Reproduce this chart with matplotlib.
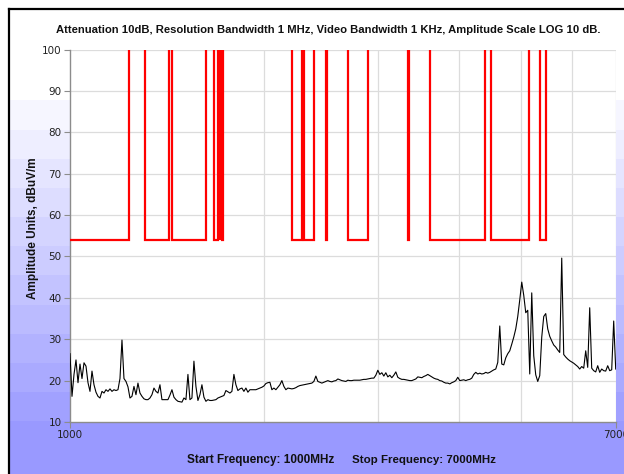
import numpy as np
import matplotlib
matplotlib.use("Agg")
import matplotlib.pyplot as plt
from matplotlib.lines import Line2D

# ---------------- data ----------------
title_text = "Attenuation 10dB, Resolution Bandwidth 1 MHz, Video Bandwidth 1 KHz, Amplitude Scale LOG 10 dB."
ylabel_text = "Amplitude Units, dBuV/m"
xlabel_start = "Start Frequency: 1000MHz"
xlabel_stop = "Stop Frequency: 7000MHz"

start_mhz = 1000
stop_mhz = 7000
y_ticks = [10, 20, 30, 40, 50, 60, 70, 80, 90, 100]
x_tick_values = [1000, 7000]
x_tick_labels = ["1000", "7000"]

# measured trace (dBuV/m), log-spaced sweep points from 1000 to 7000 MHz
trace_dbuv = [
    26.5, 16.2, 21.5, 25.0, 19.5, 24.0, 20.5, 24.3, 23.5, 19.5,
    17.4, 22.3, 19.0, 17.2, 16.2, 15.8, 17.4, 17.0, 17.8, 17.4,
    18.0, 17.4, 17.8, 17.6, 17.8, 20.5, 29.8, 20.5, 19.8, 18.5,
    15.8, 16.2, 18.6, 16.6, 19.4, 17.0, 16.2, 15.6, 15.4, 15.4,
    15.8, 16.6, 18.2, 17.4, 17.0, 19.0, 15.4, 15.4, 15.4, 15.4,
    16.5, 17.8, 16.0, 15.4, 15.0, 14.9, 14.8, 15.8, 15.4, 21.5,
    15.4, 15.8, 24.7, 18.6, 15.2, 16.6, 19.0, 16.0, 15.0, 15.4,
    15.2, 15.2, 15.3, 15.4, 15.8, 16.0, 16.2, 16.4, 17.6, 17.3,
    17.0, 17.4, 21.5, 19.0, 17.6, 18.0, 18.2, 17.4, 18.2, 17.2,
    17.8, 17.8, 17.8, 17.8, 18.0, 18.2, 18.4, 18.7, 19.3, 19.5,
    19.6, 17.8, 18.2, 17.8, 18.4, 19.0, 20.0, 18.6, 17.8, 18.2,
    18.1, 18.0, 18.1, 18.3, 18.6, 18.8, 18.9, 19.0, 19.1, 19.2,
    19.3, 19.4, 19.8, 21.1, 19.8, 19.6, 19.4, 19.6, 19.8, 20.0,
    19.8, 19.7, 19.9, 20.0, 20.4, 20.2, 20.0, 19.9, 19.8, 20.1,
    20.0, 20.0, 20.1, 20.1, 20.1, 20.1, 20.2, 20.3, 20.3, 20.4,
    20.5, 20.6, 20.6, 21.3, 22.5, 21.5, 21.9, 21.1, 21.9, 20.9,
    21.3, 20.7, 21.3, 22.1, 20.8, 20.5, 20.3, 20.3, 20.2, 20.1,
    20.0, 20.0, 20.2, 20.4, 20.9, 20.8, 20.7, 21.0, 21.2, 21.5,
    21.2, 20.9, 20.6, 20.4, 20.3, 20.0, 19.9, 19.6, 19.4, 19.4,
    19.2, 19.5, 19.7, 20.0, 20.8, 20.0, 20.1, 20.2, 20.0, 20.2,
    20.3, 20.6, 21.5, 22.0, 21.6, 21.8, 21.6, 21.7, 22.0, 21.8,
    22.0, 22.3, 22.6, 22.8, 24.4, 33.2, 24.0, 23.8, 25.5, 26.5,
    27.2, 28.8, 30.5, 32.5, 35.5, 39.5, 43.8, 40.6, 36.4, 37.0,
    21.6, 41.2, 26.0, 21.4, 19.8, 21.2, 30.5, 35.5, 36.2, 32.5,
    30.7, 29.6, 28.6, 28.1, 27.4, 26.8, 49.6, 26.3, 25.7, 25.2,
    24.8, 24.5, 24.2, 23.8, 23.4, 22.8, 23.4, 23.0, 27.2, 23.2,
    37.6, 23.0, 22.4, 22.1, 23.6, 22.0, 22.8, 22.4, 22.3, 23.6,
    22.4, 22.6, 34.4, 22.8,
]

# limit line: bands (MHz) where the limit sits at its low level, elsewhere off-scale high
limit_low_dbuv = 54.0
limit_high_dbuv = 130.0
limit_low_bands = [
    (1000, 1234), (1307, 1422), (1437, 1623), (1670, 1697), (1705, 1709),
    (1712, 1716), (1720, 1723), (2210, 2290), (2306, 2387), (2489, 2503),
    (2698, 2894), (3340, 3352), (3606, 4393), (4493, 5139), (5350, 5454),
]

# ---------------- figure ----------------
W, H = 624, 474
fig = plt.figure(figsize=(W / 100, H / 100), dpi=100)

# background gradient (white top -> lavender bottom, banded)
bg = fig.add_axes([0, 0, 1, 1], zorder=-10)
bg.set_axis_off()
rows = np.arange(H)
nb = 12
level = np.floor(np.clip((rows - 100) / (450 - 100), 0, 0.999) * nb + 1) / nb
level[rows < 100] = 0
level[rows >= 450] = 1
top_c = np.array([1.0, 1.0, 1.0])
bot_c = np.array([153, 153, 255]) / 255
img = top_c[None, :] * (1 - level[:, None]) + bot_c[None, :] * level[:, None]
img = np.repeat(img[:, None, :], 4, axis=1)
bg.imshow(img, aspect="auto", extent=[0, 1, 0, 1], origin="upper", interpolation="nearest")
bg.set_xlim(0, 1)
bg.set_ylim(0, 1)
bg.fill_between([0, 1], 1 - 8 / H, 1, color="white", zorder=2)
bg.fill_between([0, 8 / W], 0, 1, color="white", zorder=2)

# frame lines (left & top)
fig.add_artist(Line2D([8.5 / W, 8.5 / W], [0, 1 - 8.5 / H], transform=fig.transFigure,
                      color="black", lw=1.6))
fig.add_artist(Line2D([8.5 / W, 1], [1 - 8.5 / H, 1 - 8.5 / H], transform=fig.transFigure,
                      color="black", lw=1.6))

left, right, top, bottom = 70, 615.7, 49.5, 422
ax = fig.add_axes([left / W, 1 - bottom / H, (right - left) / W, (bottom - top) / H])
ax.set_facecolor("white")
ax.set_xscale("log")
ax.set_xlim(start_mhz, stop_mhz)
ax.set_ylim(10, 100)

# grid
for f in [2000, 3000, 4000, 5000, 6000, 7000]:
    ax.axvline(f, color="#dcdcdc", lw=0.9, zorder=0)
for y in y_ticks[1:]:
    ax.axhline(y, color="#dcdcdc", lw=0.9, zorder=0)

# trace
freqs = np.geomspace(start_mhz, stop_mhz, len(trace_dbuv))
ax.plot(freqs, trace_dbuv, color="black", lw=0.8, zorder=3)

# limit line
lx, ly = [], []
for a, b in limit_low_bands:
    if a <= start_mhz:
        lx += [a, b, b]
        ly += [limit_low_dbuv, limit_low_dbuv, limit_high_dbuv]
    else:
        lx += [a, a, b, b]
        ly += [limit_high_dbuv, limit_low_dbuv, limit_low_dbuv, limit_high_dbuv]
lx.append(stop_mhz)
ly.append(limit_high_dbuv)
ax.plot(lx, ly, color="#ff0000", lw=1.6, zorder=4, solid_joinstyle="miter")

# spines & ticks
for s in ["top", "right"]:
    ax.spines[s].set_visible(False)
for s in ["left", "bottom"]:
    ax.spines[s].set_color("#8c8c8c")
    ax.spines[s].set_linewidth(1.0)
ax.set_yticks(y_ticks)
ax.set_yticklabels([str(v) for v in y_ticks])
ax.xaxis.set_minor_locator(matplotlib.ticker.NullLocator())
ax.xaxis.set_minor_formatter(matplotlib.ticker.NullFormatter())
ax.set_xticks(x_tick_values)
ax.set_xticklabels(x_tick_labels)
ax.tick_params(axis="both", colors="#8c8c8c", labelcolor="#222222", labelsize=7.5,
               length=4, width=0.8, direction="out", pad=2)

font = dict(fontweight="bold", family="Liberation Sans", color="#111111")
t_title = fig.text(328 / W, 1 - 30 / H, title_text, ha="center", va="center", fontsize=8, **font)
t_x1 = fig.text(187 / W, 1 - 460 / H, xlabel_start, ha="left", va="center", fontsize=8, **font)
t_x2 = fig.text(352 / W, 1 - 460 / H, xlabel_stop, ha="left", va="center", fontsize=8, **font)

# scale each text to the width it has in the reference
renderer = fig.canvas.get_renderer()
for t, target in [(t_title, 546), (t_x1, 147), (t_x2, 143)]:
    bb = t.get_window_extent(renderer)
    t.set_fontsize(t.get_fontsize() * target / bb.width)

fig.text(33 / W, 1 - 228 / H, ylabel_text, ha="center", va="center", rotation=90,
         fontsize=t_x1.get_fontsize(), **font)

fig.savefig("out.png", dpi=100)
